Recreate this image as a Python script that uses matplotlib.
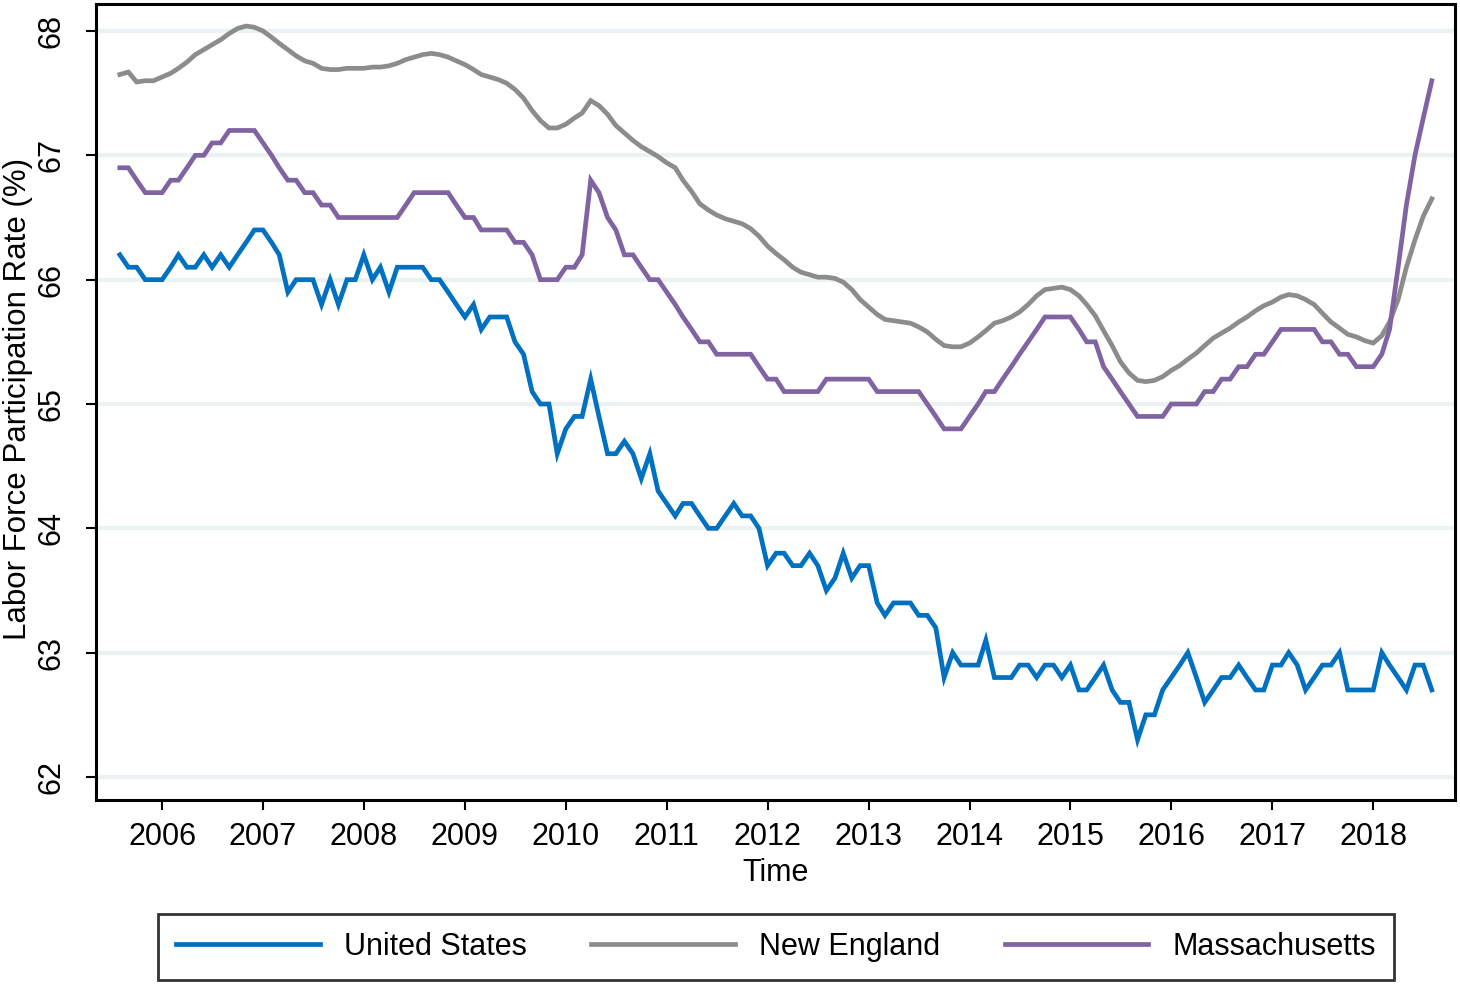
import matplotlib
matplotlib.use("Agg")
import matplotlib.pyplot as plt
import pandas as pd

plt.rcParams['font.family'] = ['Liberation Sans', 'DejaVu Sans']

start_month = "2005-08"
end_month = "2018-08"

us = [
    66.2, 66.1, 66.1, 66.0, 66.0,
    66.0, 66.1, 66.2, 66.1, 66.1, 66.2, 66.1, 66.2, 66.1, 66.2, 66.3, 66.4,
    66.4, 66.3, 66.2, 65.9, 66.0, 66.0, 66.0, 65.8, 66.0, 65.8, 66.0, 66.0,
    66.2, 66.0, 66.1, 65.9, 66.1, 66.1, 66.1, 66.1, 66.0, 66.0, 65.9, 65.8,
    65.7, 65.8, 65.6, 65.7, 65.7, 65.7, 65.5, 65.4, 65.1, 65.0, 65.0, 64.6,
    64.8, 64.9, 64.9, 65.2, 64.9, 64.6, 64.6, 64.7, 64.6, 64.4, 64.6, 64.3,
    64.2, 64.1, 64.2, 64.2, 64.1, 64.0, 64.0, 64.1, 64.2, 64.1, 64.1, 64.0,
    63.7, 63.8, 63.8, 63.7, 63.7, 63.8, 63.7, 63.5, 63.6, 63.8, 63.6, 63.7,
    63.7, 63.4, 63.3, 63.4, 63.4, 63.4, 63.3, 63.3, 63.2, 62.8, 63.0, 62.9,
    62.9, 62.9, 63.1, 62.8, 62.8, 62.8, 62.9, 62.9, 62.8, 62.9, 62.9, 62.8,
    62.9, 62.7, 62.7, 62.8, 62.9, 62.7, 62.6, 62.6, 62.3, 62.5, 62.5, 62.7,
    62.8, 62.9, 63.0, 62.8, 62.6, 62.7, 62.8, 62.8, 62.9, 62.8, 62.7, 62.7,
    62.9, 62.9, 63.0, 62.9, 62.7, 62.8, 62.9, 62.9, 63.0, 62.7, 62.7, 62.7,
    62.7, 63.0, 62.9, 62.8, 62.7, 62.9, 62.9, 62.7,
]

new_england = [
    67.65, 67.67, 67.59, 67.60, 67.60,
    67.63, 67.66, 67.70, 67.75, 67.81, 67.85, 67.89, 67.93, 67.98, 68.02, 68.04, 68.03,
    68.00, 67.95, 67.90, 67.85, 67.80, 67.76, 67.74, 67.70, 67.69, 67.69, 67.70, 67.70,
    67.70, 67.71, 67.71, 67.72, 67.74, 67.77, 67.79, 67.81, 67.82, 67.81, 67.79, 67.76,
    67.73, 67.69, 67.65, 67.63, 67.61, 67.58, 67.53, 67.46, 67.36, 67.28, 67.22, 67.22,
    67.25, 67.30, 67.34, 67.44, 67.40, 67.33, 67.24, 67.18, 67.12, 67.07, 67.03, 66.99,
    66.94, 66.90, 66.80, 66.71, 66.61, 66.56, 66.52, 66.49, 66.47, 66.45, 66.41, 66.35,
    66.27, 66.21, 66.16, 66.10, 66.06, 66.04, 66.02, 66.02, 66.01, 65.98, 65.92, 65.84,
    65.78, 65.72, 65.68, 65.67, 65.66, 65.65, 65.62, 65.58, 65.52, 65.47, 65.46, 65.46,
    65.49, 65.54, 65.59, 65.65, 65.67, 65.70, 65.74, 65.80, 65.87, 65.92, 65.93, 65.94,
    65.92, 65.87, 65.80, 65.71, 65.59, 65.47, 65.34, 65.25, 65.19, 65.18, 65.19, 65.22,
    65.27, 65.31, 65.36, 65.41, 65.47, 65.53, 65.57, 65.61, 65.66, 65.70, 65.75, 65.79,
    65.82, 65.86, 65.88, 65.87, 65.84, 65.80, 65.73, 65.66, 65.61, 65.56, 65.54, 65.51,
    65.49, 65.55, 65.66, 65.84, 66.10, 66.32, 66.51, 66.65,
]

massachusetts = [
    66.9, 66.9, 66.8, 66.7, 66.7,
    66.7, 66.8, 66.8, 66.9, 67.0, 67.0, 67.1, 67.1, 67.2, 67.2, 67.2, 67.2,
    67.1, 67.0, 66.9, 66.8, 66.8, 66.7, 66.7, 66.6, 66.6, 66.5, 66.5, 66.5,
    66.5, 66.5, 66.5, 66.5, 66.5, 66.6, 66.7, 66.7, 66.7, 66.7, 66.7, 66.6,
    66.5, 66.5, 66.4, 66.4, 66.4, 66.4, 66.3, 66.3, 66.2, 66.0, 66.0, 66.0,
    66.1, 66.1, 66.2, 66.8, 66.7, 66.5, 66.4, 66.2, 66.2, 66.1, 66.0, 66.0,
    65.9, 65.8, 65.7, 65.6, 65.5, 65.5, 65.4, 65.4, 65.4, 65.4, 65.4, 65.3,
    65.2, 65.2, 65.1, 65.1, 65.1, 65.1, 65.1, 65.2, 65.2, 65.2, 65.2, 65.2,
    65.2, 65.1, 65.1, 65.1, 65.1, 65.1, 65.1, 65.0, 64.9, 64.8, 64.8, 64.8,
    64.9, 65.0, 65.1, 65.1, 65.2, 65.3, 65.4, 65.5, 65.6, 65.7, 65.7, 65.7,
    65.7, 65.6, 65.5, 65.5, 65.3, 65.2, 65.1, 65.0, 64.9, 64.9, 64.9, 64.9,
    65.0, 65.0, 65.0, 65.0, 65.1, 65.1, 65.2, 65.2, 65.3, 65.3, 65.4, 65.4,
    65.5, 65.6, 65.6, 65.6, 65.6, 65.6, 65.5, 65.5, 65.4, 65.4, 65.3, 65.3,
    65.3, 65.4, 65.6, 66.1, 66.6, 67.0, 67.3, 67.6,
]

series_names = ["United States", "New England", "Massachusetts"]
year_ticks = list(range(2006, 2019))
y_ticks = [62, 63, 64, 65, 66, 67, 68]

dates = pd.date_range(start_month, end_month, freq="MS")

colors = ["#0070C0", "#8C8C8C", "#8064A2"]

fig = plt.figure(figsize=(14.6, 9.84), dpi=100)
ax = fig.add_axes([0.0658, 0.187, 0.9308, 0.8089])

for vals, name, c in zip([us, new_england, massachusetts], series_names, colors):
    ax.plot(dates, vals, color=c, lw=3.4, label=name, solid_joinstyle='miter', zorder=3)

ax.set_xlim(pd.Timestamp("2005-05-07"), pd.Timestamp("2018-10-24"))
ax.set_ylim(61.815, 68.217)

ax.set_xticks([pd.Timestamp(f"{y}-01-01") for y in year_ticks])
ax.set_xticklabels([str(y) for y in year_ticks])
ax.set_yticks(y_ticks)
ax.set_yticklabels([str(v) for v in y_ticks], rotation=90, va='center')

ax.grid(axis='y', color='#EAF2F3', lw=3, zorder=1)
ax.set_axisbelow(True)

for s in ax.spines.values():
    s.set_linewidth(2.2)
    s.set_color('black')

ax.tick_params(axis='both', labelsize=22, length=7, width=1.5, direction='out', colors='black')
ax.tick_params(axis='x', pad=9)
ax.tick_params(axis='y', pad=14)

ax.set_xlabel("Time", fontsize=22, labelpad=4)
ax.set_ylabel("Labor Force Participation Rate (%)", fontsize=22.5, va='center')
ax.yaxis.set_label_coords(-0.0574, 0.504)

leg = fig.legend(loc='center', bbox_to_anchor=(0.5315, 0.0376), ncol=3, fontsize=22,
                 frameon=True, fancybox=False, edgecolor='black', handlelength=4.7,
                 handletextpad=0.78, columnspacing=2.12, borderpad=0.6)
leg.get_frame().set_linewidth(2)
for line in leg.get_lines():
    line.set_linewidth(3.4)

fig.savefig("out.png", dpi=100)
